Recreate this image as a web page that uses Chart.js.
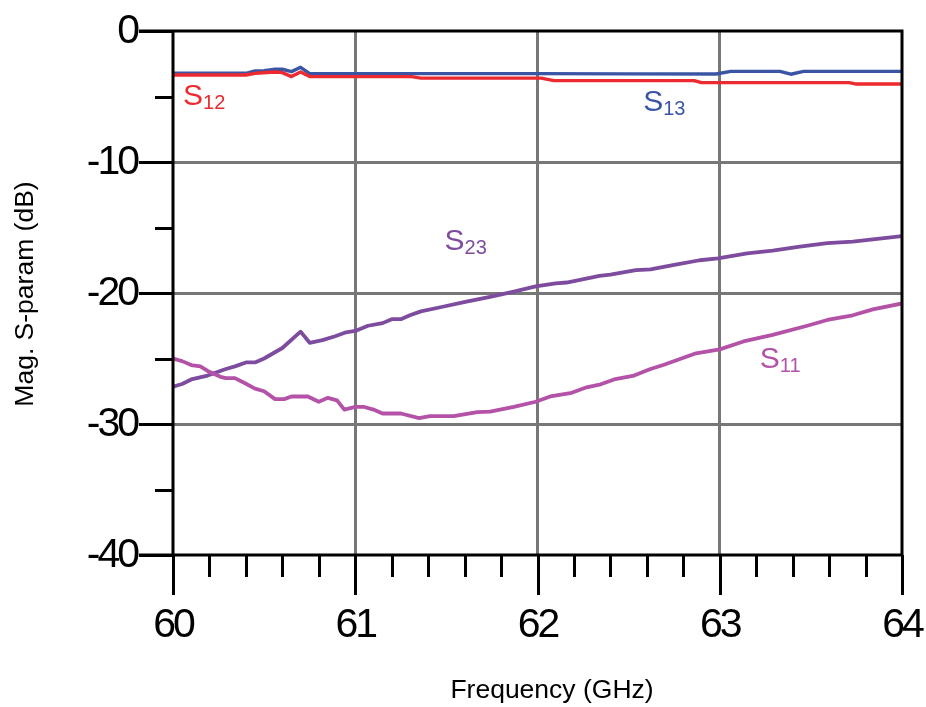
<!DOCTYPE html>
<html>
<head>
<meta charset="utf-8">
<title>S-parameters 60-64 GHz</title>
<script src="https://cdn.jsdelivr.net/npm/chart.js@4.4.1/dist/chart.umd.min.js"></script>
<style>
  html, body { margin: 0; padding: 0; background: #fff; }
  #wrap { width: 926px; height: 707px; }
</style>
</head>
<body>
<div id="wrap"><canvas id="chart" width="926" height="707"></canvas></div>
<script>
// ===== Data
const s13Freq = [60.0, 60.4, 60.45, 60.5, 60.56, 60.6, 60.65, 60.7, 60.75, 61.0, 61.5, 62.0, 62.5, 62.98, 63.06, 63.33, 63.39, 63.46, 64.0];
const s13Db   = [-3.23, -3.23, -3.05, -3.03, -2.92, -2.92, -3.1, -2.77, -3.25, -3.25, -3.25, -3.25, -3.27, -3.28, -3.08, -3.08, -3.3, -3.08, -3.08];

const s12Freq = [60.0, 60.4, 60.45, 60.56, 60.6, 60.65, 60.7, 60.75, 61.31, 61.36, 62.02, 62.09, 62.86, 62.9, 63.71, 63.75, 64.0];
const s12Db   = [-3.36, -3.36, -3.23, -3.13, -3.18, -3.48, -3.13, -3.48, -3.48, -3.6, -3.6, -3.79, -3.79, -3.94, -3.94, -4.05, -4.05];

const s23Freq = [60.0, 60.05, 60.1, 60.19, 60.29, 60.34, 60.4, 60.45, 60.5, 60.6, 60.7, 60.75, 60.82, 60.89, 60.95, 61.0,
                 61.07, 61.15, 61.2, 61.25, 61.3, 61.36, 61.48, 61.61, 61.74, 61.87, 61.99, 62.1, 62.16, 62.34, 62.4, 62.54,
                 62.62, 62.75, 62.89, 62.99, 63.15, 63.29, 63.44, 63.59, 63.73, 63.84, 64.0];
const s23Db   = [-27.15, -26.95, -26.6, -26.3, -25.8, -25.6, -25.3, -25.3, -25.0, -24.2, -22.95, -23.8, -23.6, -23.3, -23.0, -22.9,
                 -22.5, -22.3, -22.0, -22.0, -21.7, -21.4, -21.05, -20.66, -20.3, -19.9, -19.5, -19.26, -19.2, -18.7, -18.6, -18.25,
                 -18.2, -17.86, -17.5, -17.35, -16.97, -16.77, -16.46, -16.2, -16.08, -15.9, -15.65];

const s11Freq = [60.0, 60.05, 60.1, 60.15, 60.19, 60.26, 60.29, 60.34, 60.39, 60.45, 60.5, 60.56, 60.61, 60.65, 60.74, 60.8,
                 60.85, 60.9, 60.94, 61.0, 61.05, 61.1, 61.15, 61.25, 61.35, 61.41, 61.54, 61.67, 61.74, 61.87, 61.99, 62.07,
                 62.18, 62.27, 62.34, 62.42, 62.53, 62.62, 62.69, 62.87, 63.0, 63.13, 63.29, 63.48, 63.59, 63.73, 63.84, 64.0];
const s11Db   = [-25.0, -25.2, -25.5, -25.6, -25.95, -26.4, -26.5, -26.5, -26.85, -27.3, -27.5, -28.1, -28.1, -27.9, -27.9, -28.3,
                 -28.0, -28.2, -28.9, -28.7, -28.7, -28.9, -29.2, -29.2, -29.55, -29.4, -29.4, -29.1, -29.05, -28.7, -28.3, -27.9,
                 -27.65, -27.2, -27.0, -26.6, -26.3, -25.8, -25.5, -24.6, -24.3, -23.7, -23.2, -22.5, -22.06, -21.7, -21.25, -20.8];

const xTicks = [60, 61, 62, 63, 64];
const yTicks = [0, -10, -20, -30, -40];

const pts = (fs, vs) => fs.map((f, i) => ({ x: f, y: vs[i] }));

// ===== Look
const FONT = '"Liberation Sans", Arial, Helvetica, sans-serif';
const C_S12 = '#ec2a2f';
const C_S13 = '#3b55a5';
const C_S23 = '#7d4c9f';
const C_S11 = '#b352a7';
const GRID = '#777777';

// series labels, anchored in data units: [freq, dB, sub, colour]
const seriesLabels = [
  [60.055, -5.65, '12', C_S12],
  [62.58, -6.1, '13', C_S13],
  [61.49, -16.7, '23', C_S23],
  [63.22, -25.7, '11', C_S11]
];

const isInt = v => Math.abs(v - Math.round(v)) < 1e-6;

// ===== Frame, ticks, texts
const decor = {
  id: 'decor',
  afterDraw(chart) {
    const { ctx, chartArea: a, scales: { x, y } } = chart;
    ctx.save();
    ctx.strokeStyle = '#000';
    ctx.lineWidth = 3;
    ctx.lineCap = 'butt';

    // frame
    ctx.beginPath();
    ctx.moveTo(a.left - 34, a.top); ctx.lineTo(a.right + 1.5, a.top);
    ctx.moveTo(a.left - 34, a.bottom); ctx.lineTo(a.right + 1.5, a.bottom);
    ctx.moveTo(a.left, a.top - 1.5); ctx.lineTo(a.left, a.bottom);
    ctx.moveTo(a.right, a.top - 1.5); ctx.lineTo(a.right, a.bottom);
    ctx.stroke();

    // x ticks (every 0.2 GHz)
    ctx.beginPath();
    x.ticks.forEach(t => {
      const px = Math.round(x.getPixelForValue(t.value)) + 0.5;
      const len = isInt(t.value) ? 40 : 22;
      ctx.moveTo(px, a.bottom); ctx.lineTo(px, a.bottom + len);
    });
    // y ticks (every 5 dB)
    y.ticks.forEach(t => {
      const py = Math.round(y.getPixelForValue(t.value)) + 0.5;
      const len = t.value % 10 === 0 ? 34 : 18;
      ctx.moveTo(a.left - len, py); ctx.lineTo(a.left, py);
    });
    ctx.stroke();

    // tick labels
    ctx.fillStyle = '#000';
    ctx.font = '41px ' + FONT;
    ctx.letterSpacing = '-3px';
    ctx.textBaseline = 'alphabetic';
    ctx.textAlign = 'right';
    yTicks.forEach(v => {
      ctx.fillText(String(v), 137, y.getPixelForValue(v) + 12);
    });
    ctx.textAlign = 'center';
    xTicks.forEach(v => {
      ctx.fillText(String(v), x.getPixelForValue(v), a.bottom + 82);
    });
    ctx.letterSpacing = '0px';

    // axis titles
    ctx.font = '26.5px ' + FONT;
    ctx.textAlign = 'center';
    ctx.fillText('Frequency (GHz)', 552, 698);
    ctx.save();
    ctx.translate(33, 294);
    ctx.rotate(-Math.PI / 2);
    ctx.fillText('Mag. S-param (dB)', 0, 0);
    ctx.restore();

    // series labels
    ctx.textAlign = 'left';
    seriesLabels.forEach(([f, db, sub, col]) => {
      const px = x.getPixelForValue(f);
      const py = y.getPixelForValue(db);
      ctx.fillStyle = col;
      ctx.font = '30px ' + FONT;
      ctx.fillText('S', px, py);
      const w = ctx.measureText('S').width;
      ctx.font = '20px ' + FONT;
      ctx.fillText(sub, px + w, py + 4);
    });
    ctx.restore();
  }
};

const line = (label, data, color, width) => ({
  label, data, borderColor: color, backgroundColor: color, borderWidth: width,
  pointRadius: 0, tension: 0, fill: false, borderJoinStyle: 'round', borderCapStyle: 'round'
});

new Chart(document.getElementById('chart'), {
  type: 'line',
  data: {
    datasets: [
      line('S11', pts(s11Freq, s11Db), C_S11, 3.8),
      line('S23', pts(s23Freq, s23Db), C_S23, 3.8),
      line('S12', pts(s12Freq, s12Db), C_S12, 3.4),
      line('S13', pts(s13Freq, s13Db), C_S13, 3.4)
    ]
  },
  options: {
    responsive: false,
    animation: false,
    events: [],
    layout: { padding: { top: 31, right: 24, left: 0, bottom: 0 } },
    plugins: { legend: { display: false }, tooltip: { enabled: false } },
    scales: {
      x: {
        type: 'linear', min: 60, max: 64,
        ticks: { stepSize: 0.2, display: false },
        grid: {
          lineWidth: 3, drawTicks: false,
          color: c => (isInt(c.tick.value) && c.tick.value > 60 && c.tick.value < 64) ? GRID : 'rgba(0,0,0,0)'
        },
        border: { display: false },
        afterFit(s) { s.height = 152; }
      },
      y: {
        type: 'linear', min: -40, max: 0,
        ticks: { stepSize: 5, display: false },
        grid: {
          lineWidth: 3, drawTicks: false,
          color: c => (c.tick.value % 10 === 0 && c.tick.value > -40 && c.tick.value < 0) ? GRID : 'rgba(0,0,0,0)'
        },
        border: { display: false },
        afterFit(s) { s.width = 173; }
      }
    }
  },
  plugins: [decor]
});
</script>
</body>
</html>
